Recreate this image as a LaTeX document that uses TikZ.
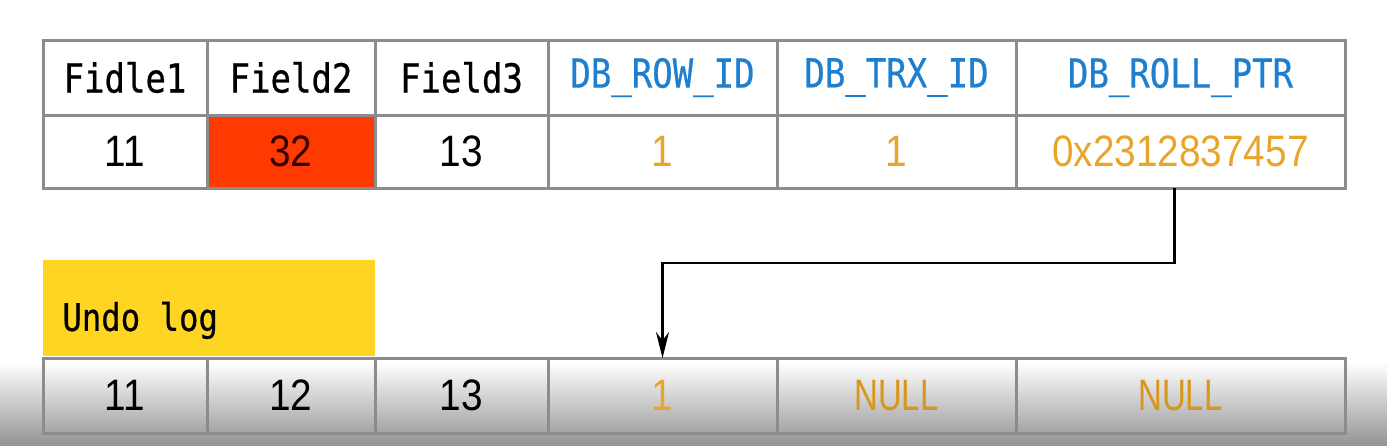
\documentclass[tikz,border=0pt]{standalone}
\usepackage{fontspec}
\usepackage{xcolor}
\usepackage{tikz}
\usetikzlibrary{positioning}
\usetikzlibrary{arrows.meta}

\setmainfont{Liberation Sans}
\newfontfamily\headfont[FakeStretch=0.85,FakeBold=0.6]{DejaVu Sans Mono}
\newfontfamily\numfont[FakeStretch=0.88]{Liberation Sans}
\newfontfamily\nilfont[FakeStretch=0.75]{Liberation Sans}

\definecolor{tgray}{HTML}{8C8C8C}
\definecolor{dbblue}{HTML}{1E7FD0}
\definecolor{ptrorange}{HTML}{E8A52A}
\definecolor{nilorange}{HTML}{D8961A}
\definecolor{hotred}{HTML}{FF3A00}
\definecolor{undoyellow}{HTML}{FFD523}

\begin{document}
\begin{tikzpicture}[
      x=0.5pt, y=-0.5pt,
      cell/.style={draw=tgray, line width=1.5pt, rectangle,
                   inner sep=0pt, outer sep=0pt, align=center},
      head/.style={cell, minimum height=37.5pt, font=\headfont\fontsize{20}{22}\selectfont},
      val/.style={cell, minimum height=36.5pt, font=\numfont\fontsize{22}{24}\selectfont},
      old/.style={cell, minimum height=37.5pt, font=\numfont\fontsize{22}{24}\selectfont},
      sys/.style={text=dbblue},
      ptr/.style={-{Stealth[length=13pt,width=6.5pt]}, line width=1.2pt, black}
    ]
    \useasboundingbox (0,0) rectangle (1387,445);

    % player shadow at the bottom
    \shade[top color=white, bottom color=black!42] (0,362) rectangle (1387,445);

    % Row header
    \node[head, minimum width=82pt, anchor=north west] (h1) at (43,40) {Fidle1};
    \node[head, minimum width=84pt, right=0pt of h1] (h2) {Field2};
    \node[head, minimum width=86.5pt, right=0pt of h2] (h3) {Field3};
    \node[head, sys, minimum width=114.5pt, right=0pt of h3] (h4) {DB\_ROW\_ID};
    \node[head, sys, minimum width=119.5pt, right=0pt of h4] (h5) {DB\_TRX\_ID};
    \node[head, sys, minimum width=164.5pt, right=0pt of h5] (h6) {DB\_ROLL\_PTR};

    % Current row values
    \node[val, minimum width=82pt, below=0pt of h1] (v1) {11};
    \node[val, fill=hotred, text=black!80!red, minimum width=84pt, below=0pt of h2] (v2) {32};
    \node[val, minimum width=86.5pt, below=0pt of h3] (v3) {13};
    \node[val, text=ptrorange, minimum width=114.5pt, below=0pt of h4] (v4) {1};
    \node[val, text=ptrorange, minimum width=119.5pt, below=0pt of h5] (v5) {1};
    \node[val, text=ptrorange, minimum width=164.5pt, below=0pt of h6] (v6) {0x2312837457};

    % Undo log label
    \node[fill=undoyellow, minimum width=166pt, minimum height=48pt,
          inner sep=0pt, anchor=north west] (undo) at (43,260) {};
    \node[anchor=west, inner sep=0pt, font=\headfont\fontsize{19}{21}\selectfont]
          (undotxt) at ([xshift=9.5pt, yshift=-6pt]undo.west) {Undo log};

    % Old row version in the undo log
    \node[old, minimum width=82pt, anchor=north west] (u1) at (43,358) {11};
    \node[old, minimum width=84pt, right=0pt of u1] (u2) {12};
    \node[old, minimum width=86.5pt, right=0pt of u2] (u3) {13};
    \node[old, text=ptrorange, minimum width=114.5pt, right=0pt of u3] (u4) {1};
    \node[old, text=nilorange, font=\nilfont\fontsize{22}{24}\selectfont,
          minimum width=119.5pt, right=0pt of u4] (u5) {NULL};
    \node[old, text=nilorange, font=\nilfont\fontsize{22}{24}\selectfont,
          minimum width=164.5pt, right=0pt of u5] (u6) {NULL};

    % Roll pointer
    \draw[ptr] ([xshift=-3pt]v6.south) -- ([xshift=-3pt]v6.south |- 0,263) -| (u4.north);

  \end{tikzpicture}
\end{document}
